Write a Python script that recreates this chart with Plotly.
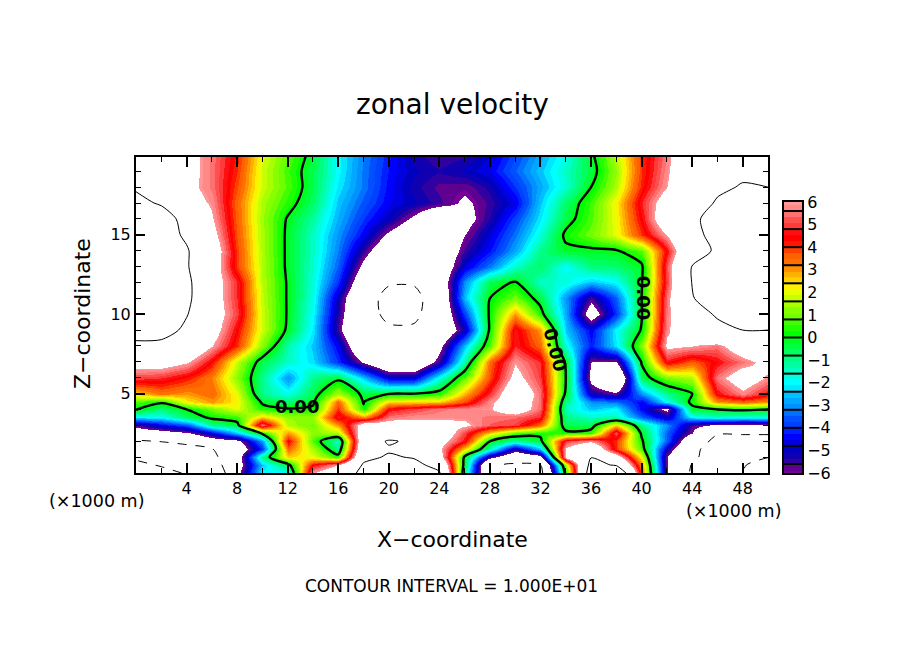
# -*- coding: utf-8 -*-
import numpy as np
import plotly.graph_objects as go

# grid, km
x_km = list(range(0, 52, 2))
z_km = [0, 0.5, 1, 1.5, 2, 2.5, 3, 3.5, 4, 4.5, 5, 6, 7, 8, 9, 10, 11, 12, 13, 14, 15, 16, 17, 18, 19, 20]

# zonal velocity, one list per height
u_z00_0 = [-30, -24, -19, -14, -6.5, -2, -2, 6, 7.5, 11, 12, 12, 10.3, -1, -9.3, -11, -11, 0.5, 12, 14, 3.5, -6, -10.5, -13, -20, -30]
u_z00_5 = [-23, -19, -16, -12, -7, -2.5, -0.5, 4.5, 6, 10.3, 11, 10.8, 9, -0.5, -9.5, -10.5, -10, 1.5, 11, 9.7, 3, -6, -10.2, -12.5, -19.5, -23]
u_z01_0 = [-18, -15, -13, -11, -7, -1, 2.5, 2, 0.5, 9.3, 10.3, 9.8, 7, -0.3, -5.5, -8, -7, 6.5, 9.9, 7, 2, -6, -9.3, -12, -15, -19.8]
u_z01_5 = [-15, -13, -12, -10.2, -7.5, -4, 3.5, 1.5, -1, 8.5, 9.7, 9.5, 6.3, 2.5, -1.5, -5.2, -2.5, 6.2, 8, 4, 0.6, -5, -9, -12, -13, -14]
u_z02_0 = [-10.5, -9.8, -8.5, -7, -6.5, -3, 4.5, 0.7, -1.6, 8.2, 10.3, 9.5, 6.7, 4.5, 0, -1.2, -0.3, 5, 5.8, 4, 0.2, -3.5, -8, -11, -11, -11]
u_z02_5 = [-7, -6.8, -6.2, -4.6, -2.5, 0.2, 3, 1.2, 1.5, 7.5, 8, 8, 7.5, 5, 2.5, 0.8, 0.3, 0.3, 0.5, 5.2, -0.2, -3.5, -6, -9.8, -9.8, -9.8]
u_z03_0 = [-5.6, -4.5, -3.6, -1, -0.4, 5.5, 1.5, 1, 3, 7, 6.8, 6.5, 6.5, 6.2, 5.3, 5, 3.5, -0.6, -0.5, 2.5, -1, -3, -5.5, -6.2, -6.3, -6.2]
u_z03_5 = [-2, -2, -0.6, 0.2, 0.6, 2.5, 1.3, 1.3, 4.8, 3, 5.5, 5.8, 5.8, 5.8, 5.5, 5.4, 4.8, -1, -1.5, -1.5, -3.5, -5, -2, -1.5, -1.8, -1.7]
u_z04_0 = [0.1, -0.8, 0, 1, 2, 0.4, 0.1, 0.2, 4, 0.2, 4.5, 5, 5.5, 5.8, 5.9, 7, 5.4, -1.5, -2.5, -2, -4.5, -6.4, -0.3, 0, 0.2, 0]
u_z04_5 = [0.7, 0.2, 2.2, 3, 2.2, -0.2, -0.7, -0.2, 3.5, -0.1, 2.5, 2.5, 2.6, 3.8, 5.8, 7, 5.5, -1, -3, -3.3, -4.5, -2, 0.3, 3, 3.5, 3]
u_z05_0 = [2.5, 3.3, 3, 3.5, 2, -1, -1.8, -0.5, 1.5, -0.3, -0.1, 0, 0.4, 2.8, 4.9, 7.5, 5.5, -0.2, -5, -5.7, -3, -1, 0, 4.5, 5.7, 4.5]
u_z06_0 = [5, 4.8, 4.2, 3.2, 1.2, -1, -3, -1, -0.3, -2.5, -4.7, -4.7, -1.8, 0.9, 3.8, 6.5, 5, 0, -6.5, -9, -0.5, 1, 1.5, 5.5, 7, 5.8]
u_z07_0 = [6.7, 6.8, 6.1, 4.3, 1.7, -0.5, -1.5, -2.3, -4, -6.2, -8, -8, -5.5, -1.2, 3.5, 5.9, 4.8, -0.2, -6, -6.1, 0.1, 4.6, 3.6, 4.5, 5.5, 6.5]
u_z08_0 = [9, 9, 8, 6, 4, 1.2, -1.3, -2.5, -4.5, -8, -9, -9, -6.5, -2.5, 0.8, 4.8, 3.5, -1.8, -4.2, -2.2, 1.2, 6.3, 6, 5.5, 7.2, 8]
u_z09_0 = [12, 11.5, 9.3, 6.8, 4.4, 1.8, -0.2, -2.2, -5.6, -9, -9.5, -9.5, -8, -5, 0.2, 4.7, 3, -2.5, -4.5, -2, 0.1, 5.8, 7.5, 9.3, 10, 10]
u_z10_0 = [13, 12.5, 10.2, 7, 5, 1.8, -0.1, -2, -5.3, -8.5, -10.8, -10.7, -8, -3.8, 0.2, 3, 0.4, -2.8, -7, -4, -0.1, 5.6, 8.8, 10.3, 11, 10.8]
u_z11_0 = [14, 13.5, 10.8, 6.9, 4.8, 1.7, -0.1, -1.8, -5, -8.5, -11, -11, -8, -2.5, 0, 1, -0.4, -3, -5.6, -3.5, 0, 5.5, 9.8, 12, 12, 11]
u_z12_0 = [13.5, 13, 10.8, 6.9, 4.8, 1.6, -0.1, -1.7, -4, -7.5, -9.7, -9.7, -7.5, -3, -0.5, 0.1, -1.5, -1.7, -2.5, -2, -0.1, 5, 10.1, 12, 12, 11.5]
u_z13_0 = [13.5, 13, 10.3, 7, 3.9, 1.6, -0.2, -1.6, -3.5, -6.5, -8.8, -9, -7.5, -4.7, -3.2, -1.5, -0.7, -2, -0.9, -0.8, -0.2, 5.2, 10.1, 12, 12.5, 12]
u_z14_0 = [13, 12.5, 10.3, 7.2, 3.9, 1.5, -0.2, -1.5, -3.2, -5.5, -7.5, -8.2, -7.5, -5.5, -4.3, -2.8, -1, -0.2, -0.2, -0.1, 0.8, 4.5, 8.5, 10.5, 12.5, 12]
u_z15_0 = [12, 11.5, 9.5, 6.6, 3.7, 1.5, -0.2, -1.5, -3, -4.5, -6.3, -7.5, -7.5, -6, -4.7, -3.3, -1.7, 0.2, 1, 2, 4, 6, 9.3, 10.8, 12, 11.5]
u_z16_0 = [11.5, 11, 9.3, 6.1, 3.6, 1.4, -0.1, -1.2, -2.7, -4, -5, -6.3, -8, -6.5, -5.3, -3.8, -2.2, -0.4, 0.7, 2.1, 4.5, 7.5, 9.5, 11, 11.5, 11.2]
u_z17_0 = [10.5, 9.8, 6.8, 5.8, 3.5, 1.5, 0.4, -0.7, -2.5, -3.6, -4.5, -5, -5.5, -6.2, -5.5, -4.6, -2.5, -0.7, 0.6, 2.2, 4.8, 7, 8.5, 10.3, 11, 10.8]
u_z18_0 = [9.8, 9.5, 6.4, 5.5, 3.8, 1.8, 0.7, -0.5, -2.2, -3.3, -4.4, -5.2, -5.7, -5.8, -5.2, -4, -2.8, -1.6, 0, 1.5, 4.2, 6, 8, 9.5, 10.2, 10]
u_z19_0 = [9, 8.8, 6.5, 5.5, 4, 1.8, 0.6, -0.5, -2, -3.3, -4.3, -5, -5.3, -5, -4.5, -3.5, -2.5, -1.5, -0.4, 1.3, 4, 5.8, 8, 9, 9.5, 9.5]
u_z20_0 = [9, 8.8, 6.5, 5.5, 4.2, 2, 0.8, -0.3, -2, -3.2, -4.2, -5.2, -5.6, -5.4, -4.8, -3.8, -2.8, -1.8, -0.2, 1.6, 4, 5.6, 8, 9, 9, 9]

u = [u_z00_0, u_z00_5, u_z01_0, u_z01_5, u_z02_0, u_z02_5, u_z03_0, u_z03_5, u_z04_0, u_z04_5,
     u_z05_0, u_z06_0, u_z07_0, u_z08_0, u_z09_0, u_z10_0, u_z11_0, u_z12_0, u_z13_0, u_z14_0,
     u_z15_0, u_z16_0, u_z17_0, u_z18_0, u_z19_0, u_z20_0]

# colour bands, lowest first: three shades per 0.8 box, the end boxes are cut at +-6
band_colors = ["#7A009A", "#600090",
               "#3000A0", "#1000B0", "#0000C0", "#0000E0", "#0000FF", "#0020FF",
               "#0040FF", "#0050FF", "#0070FF", "#0090FF", "#00A8FF", "#00C0FF",
               "#00E8FF", "#00FFFF", "#00FFE0", "#00FFC0", "#00FFA0", "#00FF80",
               "#00FF60", "#00FF40", "#00FF20", "#00FF00", "#20FF00", "#40FF00",
               "#70FF00", "#88FF00", "#A8FF00", "#C8FF00", "#E8FF00", "#FFF000",
               "#FFD000", "#FFB000", "#FF9000", "#FF7000", "#FF6000", "#FF4000",
               "#FF1800", "#FF0000", "#FF1010", "#FF3A3A", "#FF5050", "#FF7070",
               "#FF8888", "#FF9999"]
box_levels = [-5.6, -4.8, -4.0, -3.2, -2.4, -1.6, -0.8, 0, 0.8, 1.6, 2.4, 3.2, 4.0, 4.8, 5.6]
bar_ticks = [-6, -5, -4, -3, -2, -1, 0, 1, 2, 3, 4, 5, 6]

zlim = 7.0
edges = -5.6 + (np.arange(len(band_colors) + 1) - 2) * 0.8 / 3
edges = np.clip(edges, -6, 6)
colorscale = [[0, "white"], [(edges[0] + zlim) / (2 * zlim), "white"]]
for i, c in enumerate(band_colors):
    colorscale.append([(edges[i] + zlim) / (2 * zlim), c])
    colorscale.append([(edges[i + 1] + zlim) / (2 * zlim), c])
colorscale.append([(edges[-1] + zlim) / (2 * zlim), "white"])
colorscale.append([1, "white"])

# the page has an 8px body margin, so the figure is that much smaller than the window
PAGE = 8
W, H = 904 - 2 * PAGE, 654 - 2 * PAGE
FONT = "DejaVu Sans"


def fx(px):
    return (px - PAGE) / W


def fy(py):
    return 1 - (py - PAGE) / H


fig = go.Figure()
fig.add_trace(go.Heatmap(x=x_km, y=z_km, z=u, zsmooth="best", zmin=-zlim, zmax=zlim,
                         colorscale=colorscale, showscale=False))


def add_lines(start, end, width, dash):
    fig.add_trace(go.Contour(x=x_km, y=z_km, z=u, autocontour=False, showscale=False,
                             contours=dict(start=start, end=end, size=10, coloring="none"),
                             line=dict(color="black", width=width, dash=dash, smoothing=0.8)))


add_lines(0, 0, 2.4, "solid")
add_lines(10, 10, 1, "solid")
add_lines(-20, -10, 1, "dash")

# colour bar on its own small axes
bar_values = np.linspace(-6, 6, 361)
fig.add_trace(go.Heatmap(x=[0, 1], y=bar_values, z=[[v, v] for v in bar_values],
                         zmin=-zlim, zmax=zlim, colorscale=colorscale, showscale=False,
                         xaxis="x2", yaxis="y2"))
for v in box_levels:
    fig.add_shape(type="line", xref="x2", yref="y2", x0=0, x1=1, y0=v, y1=v,
                  line=dict(color="black", width=2))

fig.update_layout(
    width=W, height=H, margin=dict(l=0, r=0, t=0, b=0),
    paper_bgcolor="white", plot_bgcolor="white", showlegend=False,
    font=dict(family=FONT, color="black", size=15),
    xaxis=dict(domain=[fx(136), fx(768)], range=[0, 50], tickvals=list(range(4, 50, 4)),
               ticks="inside", ticklen=10, tickwidth=2, tickcolor="black", showgrid=False,
               zeroline=False, showline=True, linewidth=2, linecolor="black", mirror="allticks",
               tickfont=dict(size=16), anchor="y", automargin=False,
               minor=dict(tickvals=list(range(2, 50, 2)), ticks="inside", ticklen=5, tickwidth=1, tickcolor="black")),
    yaxis=dict(domain=[fy(473), fy(157)], range=[0, 19.9], tickvals=[5, 10, 15],
               ticks="inside", ticklen=9, tickwidth=2, tickcolor="black", showgrid=False,
               zeroline=False, showline=True, linewidth=2, linecolor="black", mirror="allticks",
               tickfont=dict(size=16), anchor="x", automargin=False,
               minor=dict(tickvals=list(range(1, 20)), ticks="inside", ticklen=5, tickwidth=1, tickcolor="black")),
    xaxis2=dict(domain=[fx(784), fx(802)], range=[0, 1], showticklabels=False, ticks="",
                showgrid=False, zeroline=False, showline=True, linewidth=2, linecolor="black",
                mirror=True, anchor="y2", automargin=False),
    yaxis2=dict(domain=[fy(473), fy(202)], range=[-6, 6], tickvals=bar_ticks, side="right",
                ticks="", showgrid=False, zeroline=False, showline=True, linewidth=2,
                linecolor="black", mirror=True, anchor="x2", tickfont=dict(size=16), automargin=False),
)


def paper_text(px, py, text, size, angle=0):
    fig.add_annotation(xref="paper", yref="paper", x=fx(px), y=fy(py), text=text, showarrow=False,
                       font=dict(size=size, family=FONT), textangle=angle, xanchor="center", yanchor="middle")


paper_text(452, 104, "zonal velocity", 28)
paper_text(452, 539, "X\u2212coordinate", 22)
paper_text(83, 314, "Z\u2212coordinate", 22, -90)
paper_text(451, 586, "CONTOUR INTERVAL = 1.000E+01", 17)
paper_text(96, 501, "(\u00d71000 m)", 17.5)
paper_text(733, 511, "(\u00d71000 m)", 17.5)

# contour labels on the zero line
for lx, lz, ang in [(12.74, 4.18, 0), (33.15, 7.77, 75), (40.1, 11.04, 90)]:
    fig.add_annotation(x=lx, y=lz, xref="x", yref="y", text="<b>0.00</b>", showarrow=False,
                       font=dict(size=18, family=FONT), textangle=ang)

fig.write_html("out.html")
